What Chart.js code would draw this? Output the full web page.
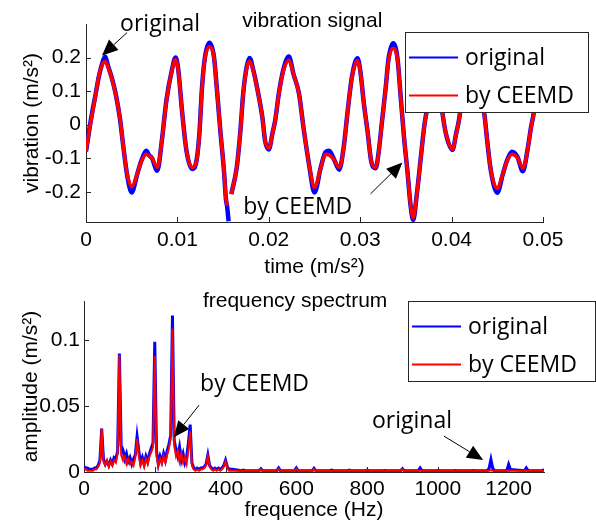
<!DOCTYPE html>
<html>
<head>
<meta charset="utf-8">
<script src="https://cdn.jsdelivr.net/npm/chart.js@4.4.1/dist/chart.umd.min.js"></script>
<style>
  body { margin: 0; background: #fff; }
  #wrap { position: relative; width: 596px; height: 523px; }
  canvas { position: absolute; left: 0; }
</style>
</head>
<body>
<div id="wrap">
  <canvas id="vibChart" width="596" height="280" style="top:0"></canvas>
  <canvas id="specChart" width="596" height="248" style="top:275px"></canvas>
</div>
<script>
// vibration signal (s, m/s^2); null = gap in the trace
const time = [0.0000, 0.0004, 0.0007, 0.0010, 0.0014, 0.0018, 0.0021, 0.0024, 0.0028, 0.0032,
  0.0037, 0.0041, 0.0045, 0.0050, 0.0056, 0.0061, 0.0066, 0.0069, 0.0072, 0.0078,
  0.0083, 0.0088, 0.0094, 0.0098, 0.0101, 0.0105, 0.0110, 0.0116, 0.0121, 0.0124,
  0.0127, 0.0130, 0.0135, 0.0140, 0.0143, 0.0147, 0.0151, 0.0153, 0.01546, 0.0156,
  0.0157, 0.0159, 0.0165, 0.0169, 0.0172, 0.0176, 0.0179, 0.0183, 0.0187, 0.0193,
  0.0196, 0.0200, 0.0204, 0.0207, 0.0211, 0.0216, 0.0222, 0.0227, 0.0233, 0.0238,
  0.0244, 0.0250, 0.0257, 0.0262, 0.0266, 0.0271, 0.0277, 0.0282, 0.0286, 0.0291,
  0.0297, 0.0300, 0.0304, 0.0308, 0.0312, 0.0317, 0.0320, 0.0324, 0.0328, 0.0331,
  0.0336, 0.0341, 0.0344, 0.0348, 0.0352, 0.0355, 0.0358, 0.0362, 0.0366, 0.0370,
  0.0374, 0.0378, 0.0382, 0.0386, 0.0390, 0.0394, 0.0401, 0.0405, 0.0408, 0.0412,
  0.0417, 0.0422, 0.0427, 0.0432, 0.0436, 0.0439, 0.0443, 0.0450, 0.0456, 0.0461,
  0.0466, 0.0472, 0.0478, 0.0483, 0.0487, 0.0490, 0.0494, 0.0498, 0.0500];
const vibOriginal = [-0.080, -0.008, 0.040, 0.083, 0.142, 0.185, 0.203, 0.176, 0.142, 0.098,
  0.021, -0.069, -0.150, -0.202, -0.148, -0.104, -0.078, -0.091, -0.099, -0.137,
  -0.047, 0.073, 0.163, 0.200, 0.163, 0.043, -0.079, -0.132, -0.106, -0.028,
  0.113, 0.198, 0.244, 0.202, 0.113, -0.019, -0.139, -0.219, -0.248, -0.288,
  null, -0.207, -0.126, -0.016, 0.093, 0.175, 0.199, 0.163, 0.113, 0.021,
  -0.049, -0.074, -0.026, 0.013, 0.093, 0.165, 0.203, 0.151, 0.093, -0.009,
  -0.118, -0.202, -0.126, -0.082, -0.078, -0.101, -0.134, -0.066, 0.033, 0.143,
  0.198, 0.163, 0.063, -0.019, -0.108, -0.130, -0.086, 0.013, 0.113, 0.196,
  0.243, 0.193, 0.093, -0.039, -0.148, -0.238, -0.284, -0.206, -0.106, -0.006,
  0.062, 0.152, 0.190, 0.132, 0.035, -0.029, -0.075, -0.026, 0.013, 0.093,
  0.163, 0.198, 0.153, 0.092, 0.028, -0.049, -0.138, -0.203, -0.148, -0.104,
  -0.081, -0.096, -0.139, -0.076, -0.006, 0.038, 0.143, 0.188, 0.178];
const vibCeemd = [-0.078, -0.010, 0.035, 0.080, 0.145, 0.180, 0.188, 0.172, 0.140, 0.096,
  0.022, -0.068, -0.147, -0.185, -0.147, -0.107, -0.088, -0.093, -0.098, -0.127,
  -0.048, 0.072, 0.161, 0.194, 0.161, 0.042, -0.078, -0.127, -0.107, -0.030,
  0.111, 0.195, 0.232, 0.200, 0.111, -0.018, -0.137, -0.217, -0.242, null,
  null, -0.207, -0.127, -0.018, 0.092, 0.171, 0.190, 0.161, 0.111, 0.022,
  -0.048, -0.070, -0.028, 0.012, 0.092, 0.161, 0.192, 0.151, 0.092, -0.008,
  -0.117, -0.187, -0.127, -0.088, -0.090, -0.103, -0.127, -0.068, 0.032, 0.141,
  0.191, 0.161, 0.062, -0.018, -0.107, -0.127, -0.088, 0.012, 0.111, 0.191,
  0.228, 0.191, 0.092, -0.038, -0.147, -0.237, -0.277, -0.207, -0.107, -0.008,
  0.060, 0.150, 0.185, 0.130, 0.035, -0.028, -0.073, -0.028, 0.012, 0.092,
  0.161, 0.192, 0.151, 0.090, 0.027, -0.048, -0.137, -0.190, -0.147, -0.107,
  -0.088, -0.098, -0.130, -0.078, -0.008, 0.037, 0.141, 0.185, 0.175];
const timeTicks = [0, 0.01, 0.02, 0.03, 0.04, 0.05];
const timeTickLabels = ['0', '0.01', '0.02', '0.03', '0.04', '0.05'];
const vibTicks = [-0.2, -0.1, 0, 0.1, 0.2];
const vibTickLabels = ['-0.2', '-0.1', '0', '0.1', '0.2'];

// frequency spectrum (Hz, m/s^2)
const freq = [0, 5, 10, 15, 20, 25, 30, 35, 40, 45, 50, 55, 60, 65, 70, 75, 80, 85, 90, 95,
  100, 105, 110, 115, 120, 125, 130, 135, 140, 145, 150, 155, 160, 165, 170, 175, 180, 185, 190, 195,
  200, 205, 210, 215, 220, 225, 230, 235, 240, 245, 250, 255, 260, 265, 270, 275, 280, 285, 290, 295,
  300, 305, 310, 315, 320, 325, 330, 335, 340, 345, 350, 355, 360, 365, 370, 375, 380, 385, 390, 395,
  400, 405, 410, 415, 420, 445, 450, 455, 495, 500, 505, 545, 550, 555, 595, 600, 605, 645, 650, 655,
  695, 700, 705, 745, 750, 755, 795, 800, 805, 845, 850, 855, 895, 900, 905, 945, 950, 955, 995, 1000,
  1005, 1045, 1050, 1055, 1095, 1100, 1105, 1140, 1145, 1150, 1155, 1160, 1195, 1200, 1205, 1245, 1250, 1255, 1295, 1300];
const ampOriginal = [0.004, 0.003, 0.003, 0.002, 0.002, 0.002, 0.003, 0.003, 0.005, 0.009,
  0.033, 0.010, 0.006, 0.008, 0.005, 0.009, 0.006, 0.011, 0.010, 0.016,
  0.090, 0.020, 0.017, 0.010, 0.014, 0.008, 0.011, 0.006, 0.010, 0.013,
  0.027, 0.016, 0.007, 0.011, 0.006, 0.012, 0.008, 0.014, 0.018, 0.022,
  0.099, 0.016, 0.006, 0.012, 0.008, 0.014, 0.009, 0.016, 0.021, 0.028,
  0.119, 0.024, 0.017, 0.012, 0.019, 0.009, 0.014, 0.007, 0.011, 0.022,
  0.036, 0.007, 0.003, 0.002, 0.003, 0.002, 0.003, 0.003, 0.004, 0.006,
  0.013, 0.005, 0.003, 0.002, 0.003, 0.002, 0.003, 0.002, 0.003, 0.005,
  0.009, 0.004, 0.002, 0.002, 0.002, 0.001, 0.0015, 0.001, 0.001, 0.0025,
  0.001, 0.001, 0.003, 0.001, 0.001, 0.003, 0.001, 0.001, 0.0028, 0.001,
  0.001, 0.0015, 0.001, 0.001, 0.0015, 0.001, 0.001, 0.0015, 0.001, 0.001,
  0.0012, 0.001, 0.001, 0.0025, 0.001, 0.001, 0.003, 0.001, 0.001, 0.0012,
  0.001, 0.001, 0.0012, 0.001, 0.001, 0.0012, 0.001, 0.001, 0.003, 0.0095,
  0.003, 0.001, 0.001, 0.0058, 0.002, 0.001, 0.003, 0.001, 0.001, 0.002];
const ampCeemd = [0.002, 0.002, 0.001, 0.001, 0.001, 0.001, 0.002, 0.002, 0.004, 0.007,
  0.033, 0.008, 0.005, 0.009, 0.004, 0.008, 0.005, 0.009, 0.007, 0.014,
  0.089, 0.013, 0.009, 0.012, 0.006, 0.010, 0.006, 0.008, 0.005, 0.011,
  0.025, 0.012, 0.005, 0.009, 0.004, 0.010, 0.006, 0.012, 0.015, 0.019,
  0.088, 0.012, 0.005, 0.010, 0.006, 0.012, 0.007, 0.013, 0.018, 0.026,
  0.109, 0.020, 0.012, 0.016, 0.008, 0.014, 0.007, 0.011, 0.006, 0.017,
  0.031, 0.005, 0.002, 0.001, 0.002, 0.001, 0.002, 0.002, 0.003, 0.005,
  0.012, 0.004, 0.002, 0.001, 0.002, 0.001, 0.002, 0.001, 0.002, 0.004,
  0.008, 0.003, 0.001, 0.001, 0.001, 0.001, 0.001, 0.001, 0.001, 0.002,
  0.001, 0.001, 0.0025, 0.001, 0.001, 0.0025, 0.001, 0.001, 0.0025, 0.001,
  0.001, 0.001, 0.001, 0.001, 0.0015, 0.001, 0.001, 0.0015, 0.001, 0.001,
  0.001, 0.001, 0.001, 0.002, 0.001, 0.001, 0.001, 0.001, 0.001, 0.001,
  0.001, 0.001, 0.001, 0.001, 0.001, 0.001, 0.001, 0.001, 0.001, 0.0015,
  0.001, 0.001, 0.001, 0.001, 0.001, 0.001, 0.001, 0.001, 0.001, 0.001];
const freqTicks = [0, 200, 400, 600, 800, 1000, 1200];
const freqTickLabels = ['0', '200', '400', '600', '800', '1000', '1200'];
const ampTicks = [0, 0.05, 0.1];
const ampTickLabels = ['0', '0.05', '0.1'];

const BLUE = '#0000ff';
const RED = '#ff0000';
const AXIS = '#262626';
const tickFont = { family: 'Liberation Sans, Arial, sans-serif', size: 21 };
const titleFont = { family: 'Liberation Sans, Arial, sans-serif', size: 21 };
const noteFont = '23px "Open Sans", sans-serif';

function pairs(xs, ys) {
  return xs.map((x, i) => ({ x: x, y: ys[i] }));
}

// small inward tick marks like the original figure
const tickMarks = {
  id: 'tickMarks',
  beforeDatasetsDraw(chart) {
    const ctx = chart.ctx;
    const { x, y } = chart.scales;
    ctx.save();
    ctx.strokeStyle = AXIS;
    ctx.lineWidth = 1;
    ctx.beginPath();
    x.ticks.forEach(t => {
      const px = Math.round(x.getPixelForValue(t.value)) + 0.5;
      ctx.moveTo(px, y.bottom);
      ctx.lineTo(px, y.bottom - 5);
    });
    y.ticks.forEach(t => {
      const py = Math.round(y.getPixelForValue(t.value)) + 0.5;
      ctx.moveTo(x.left, py);
      ctx.lineTo(x.left + 5, py);
    });
    ctx.stroke();
    ctx.restore();
  }
};

function drawArrow(ctx, x1, y1, x2, y2) {
  const headLen = 16, headHalf = 7;
  const a = Math.atan2(y2 - y1, x2 - x1);
  const c = Math.cos(a), s = Math.sin(a);
  const bx = x2 - headLen * c, by = y2 - headLen * s;
  ctx.beginPath();
  ctx.moveTo(x1, y1);
  ctx.lineTo(bx, by);
  ctx.stroke();
  ctx.beginPath();
  ctx.moveTo(x2, y2);
  ctx.lineTo(bx + headHalf * s, by - headHalf * c);
  ctx.lineTo(bx - headHalf * s, by + headHalf * c);
  ctx.closePath();
  ctx.fill();
}

// title, arrows with notes and the boxed legend drawn over the plot
const overlay = {
  id: 'overlay',
  afterDraw(chart, args, opts) {
    const ctx = chart.ctx;
    const { x, y } = chart.scales;
    const area = chart.chartArea;
    ctx.save();
    ctx.fillStyle = '#000';
    ctx.strokeStyle = '#000';
    ctx.lineWidth = 1;

    ctx.font = opts.titleFont;
    ctx.textBaseline = 'alphabetic';
    ctx.fillText(opts.title.text, x.getPixelForValue(opts.title.at[0]), y.getPixelForValue(opts.title.at[1]));

    opts.notes.forEach(n => {
      ctx.font = noteFont;
      ctx.fillText(n.text, x.getPixelForValue(n.at[0]), y.getPixelForValue(n.at[1]));
      drawArrow(ctx,
        x.getPixelForValue(n.from[0]), y.getPixelForValue(n.from[1]),
        x.getPixelForValue(n.to[0]), y.getPixelForValue(n.to[1]));
    });

    const lg = opts.legend;
    const bx = area.right + lg.dx, by = area.top + lg.dy;
    ctx.fillStyle = '#fff';
    ctx.fillRect(bx, by, lg.w, lg.h);
    ctx.strokeStyle = AXIS;
    ctx.strokeRect(bx + 0.5, by + 0.5, lg.w, lg.h);
    chart.data.datasets.forEach((ds, i) => {
      const ly = Math.round(by + lg.h * (0.31 + 0.48 * i)) + 0.5;
      ctx.strokeStyle = ds.borderColor;
      ctx.lineWidth = 2;
      ctx.beginPath();
      ctx.moveTo(bx + 4, ly);
      ctx.lineTo(bx + 53, ly);
      ctx.stroke();
      ctx.fillStyle = '#000';
      ctx.font = noteFont;
      ctx.textBaseline = 'middle';
      ctx.fillText(ds.label, bx + 60, ly + 1);
    });
    ctx.restore();
  }
};

function axisOptions(min, max, ticks, labels, title, fit, padTitle, padTicks) {
  return {
    type: 'linear',
    min: min,
    max: max,
    afterBuildTicks: s => { s.ticks = ticks.map(v => ({ value: v })); },
    afterFit: fit,
    ticks: {
      font: tickFont,
      color: '#000',
      padding: padTicks,
      autoSkip: false,
      maxRotation: 0,
      callback: (v, i) => labels[i]
    },
    grid: { drawOnChartArea: false, drawTicks: false },
    border: { display: true, color: AXIS, width: 1 },
    title: { display: true, text: title, font: titleFont, color: '#000', padding: { top: padTitle, bottom: 0 } }
  };
}

// order: the CEEMD trace (order 0) is painted over the original (order 1)
new Chart(document.getElementById('vibChart'), {
  type: 'line',
  data: {
    datasets: [
      { label: 'original', data: pairs(time, vibOriginal), order: 1, borderColor: BLUE, borderWidth: 4.5, pointRadius: 0, cubicInterpolationMode: 'monotone', spanGaps: false },
      { label: 'by CEEMD', data: pairs(time, vibCeemd), order: 0, borderColor: RED, borderWidth: 3.5, pointRadius: 0, cubicInterpolationMode: 'monotone', spanGaps: false }
    ]
  },
  options: {
    responsive: false,
    devicePixelRatio: 1,
    animation: false,
    layout: { padding: { left: 0, right: 53, top: 24, bottom: 0 } },
    scales: {
      x: axisOptions(0, 0.05, timeTicks, timeTickLabels, 'time (m/s²)', s => { s.height = 58; }, 2, 6),
      y: axisOptions(-0.29, 0.3, vibTicks, vibTickLabels, 'vibration (m/s²)', s => { s.width = 86; }, 20, 5)
    },
    plugins: {
      legend: { display: false },
      tooltip: { enabled: false },
      overlay: {
        titleFont: '21px "Liberation Sans", Arial, sans-serif',
        title: { text: 'vibration signal', at: [0.0171, 0.290] },
        notes: [
          { text: 'original', at: [0.00373, 0.2806], from: [0.0045, 0.2746], to: [0.00175, 0.206] },
          { text: 'by CEEMD', at: [0.01721, -0.2657], from: [0.03114, -0.206], to: [0.03462, -0.1125] }
        ],
        legend: { dx: -138, dy: 8, w: 183, h: 80 }
      }
    }
  },
  plugins: [tickMarks, overlay]
});

new Chart(document.getElementById('specChart'), {
  type: 'line',
  data: {
    datasets: [
      { label: 'original', data: pairs(freq, ampOriginal), order: 1, borderColor: BLUE, borderWidth: 3, pointRadius: 0, tension: 0 },
      { label: 'by CEEMD', data: pairs(freq, ampCeemd), order: 0, borderColor: RED, borderWidth: 2, pointRadius: 0, tension: 0 }
    ]
  },
  options: {
    responsive: false,
    devicePixelRatio: 1,
    animation: false,
    layout: { padding: { left: 0, right: 52, top: 26, bottom: 0 } },
    scales: {
      x: axisOptions(0, 1300, freqTicks, freqTickLabels, 'frequence (Hz)', s => { s.height = 51; }, 2, 5),
      y: axisOptions(0, 0.13, ampTicks, ampTickLabels, 'amplitude (m/s²)', s => { s.width = 84; }, 19, 4)
    },
    plugins: {
      legend: { display: false },
      tooltip: { enabled: false },
      overlay: {
        titleFont: '21px "Liberation Sans", Arial, sans-serif',
        title: { text: 'frequency spectrum', at: [336, 0.1258] },
        notes: [
          { text: 'by CEEMD', at: [328, 0.0614], from: [325, 0.0508], to: [254, 0.0265] },
          { text: 'original', at: [814, 0.0333], from: [1017, 0.0273], to: [1128, 0.0091] }
        ],
        legend: { dx: -136, dy: 0, w: 187, h: 80 }
      }
    }
  },
  plugins: [tickMarks, overlay]
});
</script>
</body>
</html>
